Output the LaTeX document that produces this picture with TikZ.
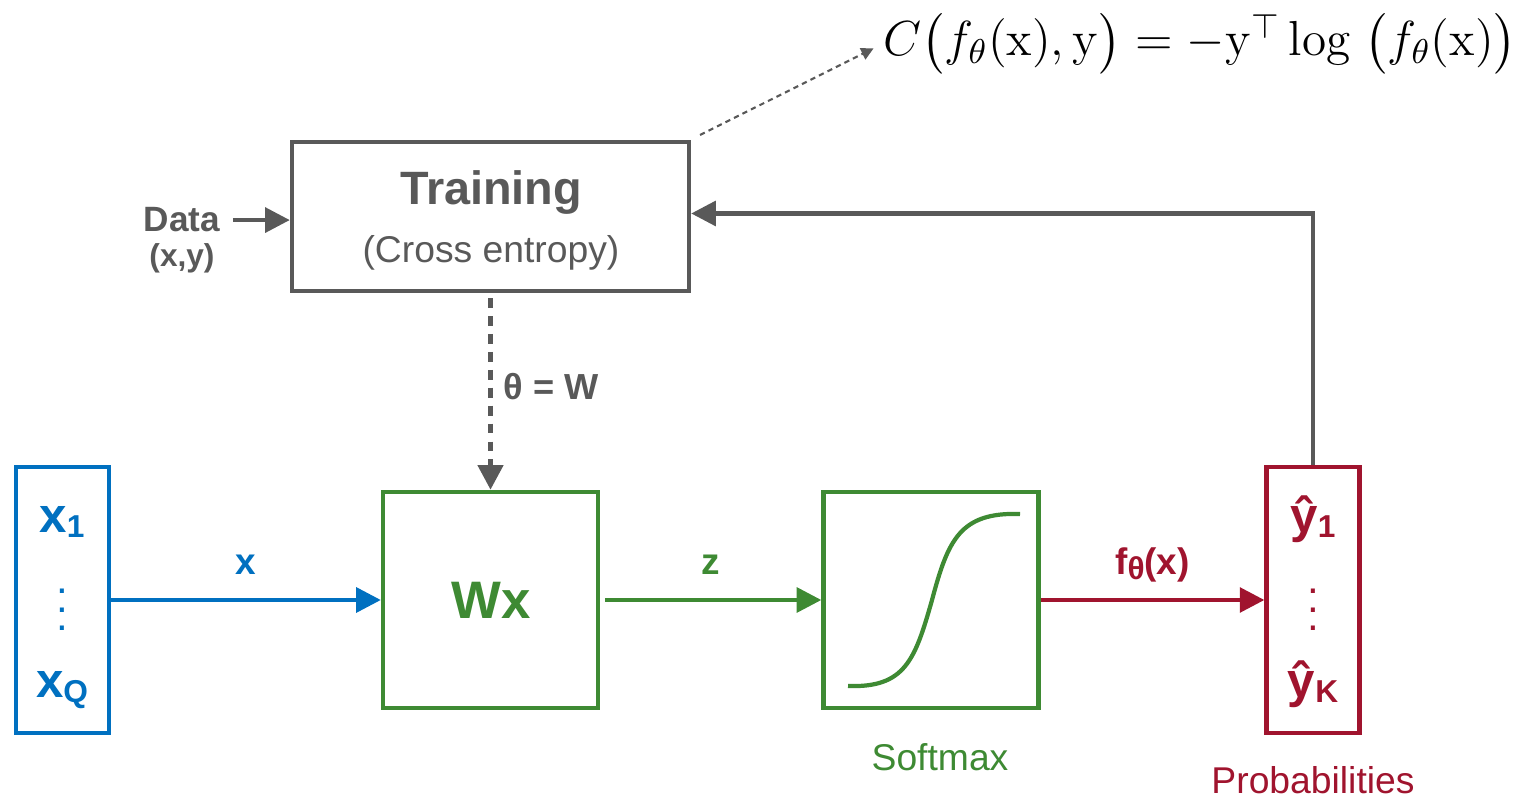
\RequirePackage{fix-cm}
\documentclass[tikz,border=0pt]{standalone}
\usepackage{exscale}
\usepackage[no-math]{fontspec}
\setmainfont{Liberation Sans}
\usetikzlibrary{positioning, arrows.meta}

\definecolor{tgray}{HTML}{595959}
\definecolor{tblue}{HTML}{0070C0}
\definecolor{tgreen}{HTML}{3E8A33}
\definecolor{tred}{HTML}{A0142E}

\newcommand{\vsub}[1]{\raisebox{-1.2pt}{\fontsize{9}{9}\selectfont #1}}
\newcommand{\colvdots}{\vbox{\baselineskip5.2pt \lineskiplimit0pt
    \hbox{.}\hbox{.}\hbox{.}}}

\begin{document}
\begin{tikzpicture}[x=0.01cm, y=-0.01cm,
      blk/.style={rectangle, draw, line width=1.2pt, inner sep=0pt},
      vecbox/.style={blk, minimum width=0.93cm, minimum height=2.66cm},
      sqbox/.style={blk, minimum width=2.15cm, minimum height=2.16cm},
      ent/.style={font=\fontsize{14}{16}\selectfont\bfseries,
                  inner sep=0pt, anchor=base},
      flow/.style={line width=1.2pt, -{Triangle[length=7pt,width=7pt]}},
      wlink/.style={line width=1.5pt, dash pattern=on 2.8pt off 2.3pt,
                    -{Triangle[length=7pt,width=7pt]}},
      costlink/.style={line width=0.6pt, dash pattern=on 1.5pt off 1.2pt,
                       -{Triangle[length=3.5pt,width=3.5pt]}},
      elab/.style={font=\fontsize{10.5}{12}\selectfont\bfseries,
                   inner sep=0pt, anchor=base, yshift=0.25cm},
      blocklab/.style={font=\fontsize{10.6}{12}\selectfont,
                       inner sep=0pt, anchor=base},
    ]
    \useasboundingbox (0,0) rectangle (1519,798);

    % ---- training block --------------------------------------------
    \node[blk, draw=tgray, minimum width=3.97cm, minimum height=1.49cm]
      (train) at (490.5,216.5) {};
    \node[font=\fontsize{13.3}{15}\selectfont\bfseries, text=tgray,
          inner sep=0pt, anchor=base] (trtitle) at (491,205) {Training};
    \node[blocklab, text=tgray] (trsub) at (491,263) {(Cross entropy)};

    \node[font=\fontsize{10}{12}\selectfont\bfseries, text=tgray,
          inner sep=0pt, anchor=base] (data) at (182,232) {Data};
    \node[font=\fontsize{9}{11}\selectfont\bfseries, text=tgray,
          inner sep=0pt, anchor=base] (datxy) at (182,267) {(x,y)};

    \node[font=\fontsize{14}{21}\selectfont, inner sep=0pt,
          anchor=base west] (cost) at (883,56)
      {$C\bigl(f_\theta(\mathrm{x}),\mathrm{y}\bigr)
        = -\mathrm{y}^\top \log\;\bigl(f_\theta(\mathrm{x})\bigr)$};
    \coordinate (tcorner) at (700,135);

    % ---- forward chain ---------------------------------------------
    \node[vecbox, draw=tblue] (inp) at (62.5,600) {};
    \node[ent, text=tblue] (x1) at (62,533) {x\vsub{1}};
    \node[text=tblue, font=\fontsize{12}{12}\selectfont, inner sep=0pt]
      (xdots) at (62,610) {\colvdots};
    \node[ent, text=tblue] (xq) at (62,698) {x\vsub{Q}};

    \node[sqbox, draw=tgreen] (lin) at (490.5,600) {};
    \node[font=\fontsize{15}{17}\selectfont\bfseries, text=tgreen,
          inner sep=0pt, anchor=base] (wx) at (491,619) {Wx};

    \node[sqbox, draw=tgreen] (soft) at (931,600) {};
    \node[blocklab, text=tgreen] (softlab) at (940,770) {Softmax};

    \node[vecbox, draw=tred] (outp) at (1313,600) {};
    \node[ent, text=tred] (y1) at (1313,533) {ŷ\vsub{1}};
    \node[text=tred, font=\fontsize{12}{12}\selectfont, inner sep=0pt]
      (ydots) at (1313,610) {\colvdots};
    \node[ent, text=tred] (yk) at (1313,698) {ŷ\vsub{K}};
    \node[blocklab, text=tred] (problab) at (1313,793) {Probabilities};

    % sigmoid inside the softmax block
    \draw[tgreen, line width=1.2pt] (848,686)
      .. controls (905,688) and (915,660) .. (932,600)
      .. controls (948,540) and (960,512) .. (1020,514);

    % ---- connectors ------------------------------------------------
    \draw[flow, tblue] (inp.east) -- node[elab] {x} (lin.west);
    \draw[flow, tgreen, shorten <=1.4pt] (lin.east) -- node[elab] {z} (soft.west);
    \draw[flow, tred] (soft.east) --
      node[elab] {f\vsub{θ}(x)} (outp.west);

    \draw[flow, tgray] (outp.north) |- ([yshift=0.03cm]train.east);
    \draw[flow, tgray, shorten <=3.4pt] (data.east) -- (data.east -| train.west);
    \draw[wlink, tgray, shorten <=1.4pt] (train.south) -- (lin.north);
    \node[font=\fontsize{10.3}{12}\selectfont\bfseries, text=tgray,
          inner sep=0pt, anchor=base west] (thw) at (503,400) {θ = W};
    \draw[costlink, tgray, shorten >=3pt] (tcorner) -- (cost.west);

  \end{tikzpicture}
\end{document}
